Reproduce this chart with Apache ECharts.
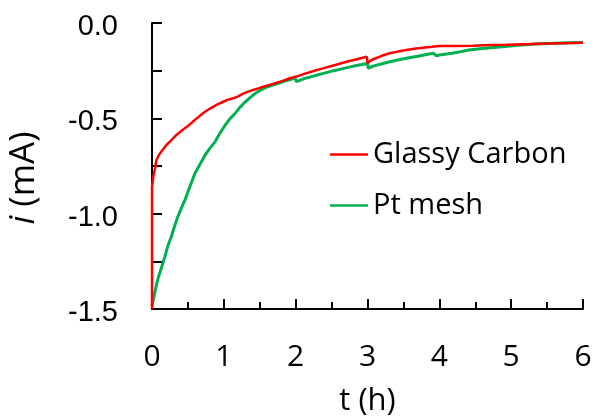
<!DOCTYPE html>
<html><head><meta charset="utf-8">
<script src="https://cdn.jsdelivr.net/npm/echarts@6/dist/echarts.min.js"></script>
<style>html,body{margin:0;padding:0;background:#fff}#c{width:593px;height:417px}</style>
</head><body><div id="c"></div>
<script>
var seriesNames = ['Glassy Carbon', 'Pt mesh'];
var xTicks = [0, 1, 2, 3, 4, 5, 6];
var yTicks = [-1.5, -1.0, -0.5, 0.0];
var glassyCarbon = [
[0,-1.5],[0,-0.86],[0.02,-0.80],[0.04,-0.77],[0.06,-0.72],[0.1,-0.69],[0.15,-0.665],[0.2,-0.64],
[0.25,-0.622],[0.34,-0.587],[0.43,-0.56],[0.5,-0.54],[0.57,-0.517],[0.64,-0.495],[0.71,-0.473],
[0.78,-0.455],[0.85,-0.44],[0.92,-0.425],[0.99,-0.413],[1.06,-0.402],[1.13,-0.395],[1.2,-0.385],
[1.27,-0.37],[1.34,-0.36],[1.41,-0.351],[1.48,-0.343],[1.55,-0.334],[1.65,-0.323],[1.74,-0.313],
[1.83,-0.302],[1.92,-0.29],[2.01,-0.281],[2.11,-0.268],[2.25,-0.252],[2.38,-0.238],[2.55,-0.22],
[2.71,-0.203],[2.85,-0.19],[2.99,-0.177],[3.0,-0.21],[3.02,-0.212],[3.05,-0.196],[3.08,-0.19],
[3.2,-0.172],[3.31,-0.159],[3.42,-0.15],[3.54,-0.142],[3.65,-0.135],[3.77,-0.13],[3.9,-0.125],
[4.0,-0.121],[4.2,-0.12],[4.47,-0.119],[4.7,-0.116],[4.93,-0.114],[5.2,-0.111],[5.39,-0.109],
[5.7,-0.106],[6.0,-0.104]
];
var ptMesh = [
[0,-1.486],[0.04,-1.41],[0.08,-1.346],[0.13,-1.285],[0.18,-1.224],[0.22,-1.17],[0.27,-1.12],
[0.31,-1.07],[0.36,-1.015],[0.41,-0.97],[0.46,-0.927],[0.53,-0.855],[0.6,-0.787],[0.67,-0.74],
[0.74,-0.692],[0.81,-0.655],[0.88,-0.622],[0.95,-0.575],[1.02,-0.535],[1.09,-0.5],[1.16,-0.473],
[1.23,-0.44],[1.3,-0.413],[1.37,-0.39],[1.44,-0.369],[1.51,-0.352],[1.58,-0.339],[1.67,-0.327],
[1.76,-0.316],[1.85,-0.305],[1.94,-0.295],[1.99,-0.287],[2.01,-0.308],[2.05,-0.302],[2.12,-0.292],
[2.25,-0.278],[2.4,-0.263],[2.53,-0.25],[2.67,-0.238],[2.81,-0.226],[2.92,-0.218],[3.0,-0.212],
[3.01,-0.238],[3.04,-0.232],[3.08,-0.226],[3.2,-0.214],[3.31,-0.203],[3.42,-0.194],[3.54,-0.185],
[3.7,-0.174],[3.8,-0.167],[3.92,-0.159],[3.96,-0.172],[4.0,-0.168],[4.1,-0.163],[4.18,-0.159],
[4.3,-0.15],[4.41,-0.142],[4.6,-0.134],[4.88,-0.125],[5.1,-0.117],[5.34,-0.11],[5.6,-0.106],
[5.8,-0.104],[6.0,-0.102]
];

var chart = echarts.init(document.getElementById('c'), null, {renderer: 'canvas'});
var axisLine = {show: true, onZero: false, lineStyle: {color: '#000', width: 2}};
chart.setOption({
  animation: false,
  backgroundColor: '#fff',
  grid: {left: 152, right: 10, top: 23, bottom: 108, containLabel: false, outerBoundsMode: 'none'},
  legend: {
    orient: 'vertical', left: 325, top: 135, itemGap: 22,
    itemWidth: 38, itemHeight: 2.5, icon: 'rect',
    textStyle: {fontFamily: 'Open Sans', fontSize: 29, color: '#000'},
    data: seriesNames
  },
  xAxis: {
    type: 'value', min: xTicks[0], max: xTicks[xTicks.length - 1], interval: 1,
    name: 't (h)', nameLocation: 'middle', nameGap: 77,
    nameTextStyle: {fontFamily: 'Open Sans', fontSize: 31, color: '#000'},
    axisLine: axisLine,
    axisTick: {show: true, inside: true, length: 10, lineStyle: {color: '#000', width: 2}},
    minorTick: {show: true, splitNumber: 2, length: 7, lineStyle: {color: '#000', width: 2}},
    splitLine: {show: false},
    axisLabel: {margin: 33, fontFamily: 'Open Sans', fontSize: 30, color: '#000'}
  },
  yAxis: {
    type: 'value', min: yTicks[0], max: yTicks[yTicks.length - 1], interval: 0.5,
    name: '{it|i} (mA)', nameLocation: 'middle', nameGap: 110, nameRotate: 90,
    nameTextStyle: {fontFamily: 'Open Sans', fontSize: 35, color: '#000', padding: [0, 24, 0, 0],
      rich: {it: {fontFamily: 'Open Sans', fontStyle: 'italic', fontSize: 35, color: '#000'}}},
    axisLine: axisLine,
    axisTick: {show: true, inside: true, length: 10, lineStyle: {color: '#000', width: 2}},
    minorTick: {show: true, splitNumber: 2, length: 10, lineStyle: {color: '#000', width: 2}},
    splitLine: {show: false},
    axisLabel: {margin: 34, fontFamily: 'Liberation Sans', fontSize: 29, color: '#000',
      verticalAlign: 'top', lineHeight: 8,
      formatter: function (v) { return v.toFixed(1); }}
  },
  series: [
    {name: seriesNames[0], type: 'line', data: glassyCarbon, showSymbol: false, symbol: 'none',
     lineStyle: {color: '#ff0000', width: 2.5}, itemStyle: {color: '#ff0000'}, z: 3},
    {name: seriesNames[1], type: 'line', data: ptMesh, showSymbol: false, symbol: 'none',
     lineStyle: {color: '#00b050', width: 3}, itemStyle: {color: '#00b050'}, z: 2}
  ]
});
</script></body></html>
